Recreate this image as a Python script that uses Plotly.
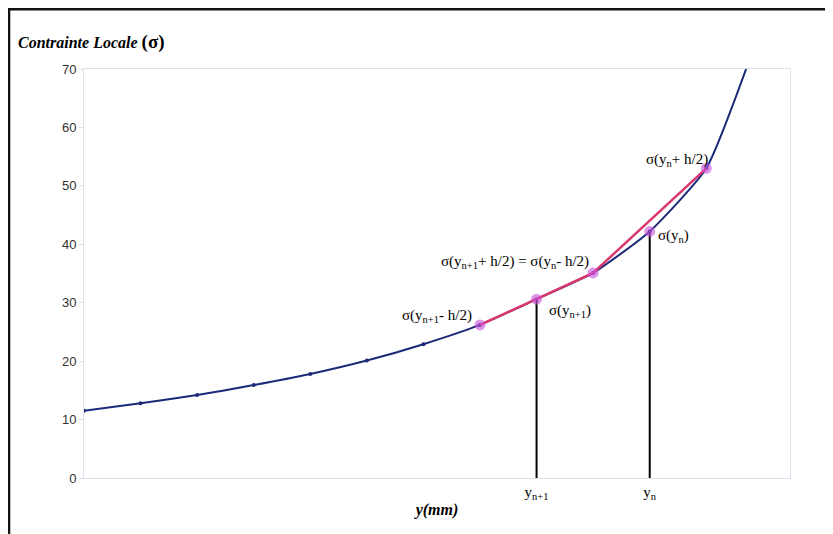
import plotly.graph_objects as go

# Data
y_mm = [0, 1, 2, 3, 4, 5, 6, 7, 8, 9, 10, 11, 12]
sigma = [11.5, 12.8, 14.2, 15.9, 17.8, 20.1, 22.9, 26.2, 30.6, 35.1, 42.2, 53.0, 78.0]

chord_x = [7, 9, 11]
chord_y = [26.2, 35.1, 53.0]

pts_x = [7, 8, 9, 10, 11]
pts_y = [26.2, 30.6, 35.1, 42.2, 53.0]

vert_x = [8, 10]
vert_top = [30.6, 42.2]

tick_vals = [8, 10]
tick_text = ["y<sub>n+1</sub>", "y<sub>n</sub>"]

labels = [
    (7, 26.2, "σ(y<sub>n+1</sub>- h/2)", "right", -6, 9),
    (8, 30.6, "σ(y<sub>n+1</sub>)", "left", 10, -12),
    (9, 35.1, "σ(y<sub>n+1</sub>+ h/2) = σ(y<sub>n</sub>- h/2)", "right", -2, 11),
    (10, 42.2, "σ(y<sub>n</sub>)", "left", 6, -5),
    (11, 53.0, "σ(y<sub>n</sub>+ h/2)", "right", 4, 8),
]

serif = "Liberation Serif, Times New Roman, serif"

fig = go.Figure()

for x, top in zip(vert_x, vert_top):
    fig.add_trace(go.Scatter(x=[x, x], y=[0, top], mode="lines",
                             line=dict(color="black", width=2), showlegend=False,
                             hoverinfo="skip"))

fig.add_trace(go.Scatter(x=y_mm, y=sigma, mode="lines+markers",
                         line=dict(color="#1b2a78", width=2, shape="spline", smoothing=0.5),
                         marker=dict(color="#1b2a78", size=4),
                         showlegend=False))

fig.add_trace(go.Scatter(x=chord_x, y=chord_y, mode="lines",
                         line=dict(color="#d9386f", width=2.5),
                         showlegend=False))

fig.add_trace(go.Scatter(x=pts_x, y=pts_y, mode="markers",
                         marker=dict(color="rgba(200,80,220,0.6)", size=11, line=dict(width=0)),
                         showlegend=False))

for x, y, t, anc, dx, dy in labels:
    fig.add_annotation(x=x, y=y, text=t, showarrow=False, xanchor=anc, yanchor="middle",
                       xshift=dx, yshift=dy,
                       font=dict(family=serif, size=15, color="black"))

fig.add_annotation(xref="paper", yref="paper", x=-0.0965, y=1.066, xanchor="left",
                   yanchor="middle", showarrow=False,
                   text="<b><i>Contrainte Locale</i> <span style='font-size:19px'>(σ)</span></b>",
                   font=dict(family=serif, size=16, color="black"))

# black frame (left & top)
fig.add_shape(type="rect", xref="paper", yref="paper",
              x0=-0.1062, x1=1.15, y0=-0.2, y1=1.146,
              line=dict(color="#111111", width=2.5), layer="above")

fig.update_layout(
    width=825, height=526,
    margin=dict(l=76, r=43, t=61, b=56),
    paper_bgcolor="white", plot_bgcolor="white",
    xaxis=dict(range=[0, 12.48], showgrid=False, zeroline=False,
               showline=True, mirror=True, linecolor="#dce3ec", linewidth=1,
               tickmode="array", tickvals=tick_vals, ticktext=tick_text,
               ticks="", tickfont=dict(family=serif, size=15, color="black"),
               title=dict(text="<b><i>y(mm)</i></b>", standoff=2,
                          font=dict(family=serif, size=16, color="black"))),
    yaxis=dict(range=[0, 70], dtick=10, showgrid=False, zeroline=False,
               showline=True, mirror=True, linecolor="#dce3ec", linewidth=1,
               ticks="outside", ticklen=4, tickcolor="#dce3ec",
               tickfont=dict(family="Liberation Sans, Arial, sans-serif", size=13, color="#333333")),
)

fig.write_html("out.html")
